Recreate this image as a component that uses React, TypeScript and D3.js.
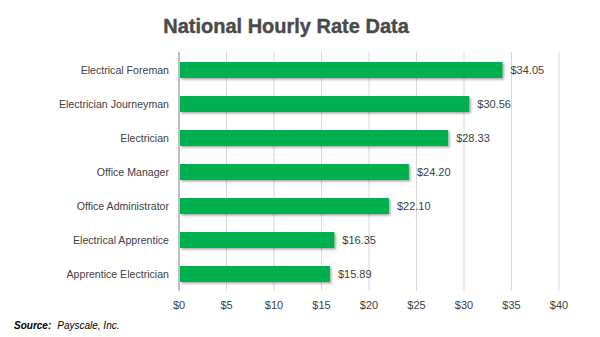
import React from "react";
import * as d3 from "d3";

const categories = [
  "Electrical Foreman",
  "Electrician Journeyman",
  "Electrician",
  "Office Manager",
  "Office Administrator",
  "Electrical Apprentice",
  "Apprentice Electrician",
];
const values = [34.05, 30.56, 28.33, 24.2, 22.1, 16.35, 15.89];
const ticks = [0, 5, 10, 15, 20, 25, 30, 35, 40];

const W = 600;
const H = 337;
const margin = { left: 179, right: 41, top: 53, bottom: 46 };

export default function App() {
  const x = d3.scaleLinear().domain([0, 40]).range([margin.left, W - margin.right]);
  const y = d3
    .scaleBand<string>()
    .domain(categories)
    .range([margin.top, H - margin.bottom])
    .paddingInner(0.53)
    .paddingOuter(0.265);
  const fmt = (v: number) => "$" + v.toFixed(2);
  const labelFont = "'Liberation Sans', Arial, sans-serif";
  return (
    <svg
      width={W}
      height={H}
      style={{ position: "absolute", left: 0, top: 0, background: "#fff" }}
    >
      <defs>
        <filter id="sh" x="-5%" y="-30%" width="110%" height="170%">
          <feDropShadow dx="1.5" dy="1.5" stdDeviation="1" floodColor="#000" floodOpacity="0.35" />
        </filter>
      </defs>
      <text
        x={286}
        y={33}
        textAnchor="middle"
        fontFamily={labelFont}
        fontWeight="bold"
        fontSize={20}
        fill="#4a4a4a"
        stroke="#4a4a4a"
        strokeWidth={0.4}
      >
        National Hourly Rate Data
      </text>
      {ticks.map((t) => (
        <g key={t}>
          {t > 0 && (
            <line
              x1={x(t)}
              x2={x(t)}
              y1={margin.top - 1}
              y2={H - margin.bottom}
              stroke="#d9d9d9"
              strokeWidth={1}
            />
          )}
          <text
            x={x(t)}
            y={309}
            textAnchor="middle"
            fontFamily={labelFont}
            fontSize={11}
            fill="#404040"
          >
            {"$" + t}
          </text>
        </g>
      ))}
      <line
        x1={x(0)}
        x2={x(0)}
        y1={margin.top - 1}
        y2={H - margin.bottom}
        stroke="#bfbfbf"
        strokeWidth={2}
      />
      {categories.map((c, i) => (
        <g key={c}>
          <rect
            x={x(0) + 1}
            y={y(c)}
            width={x(values[i]) - x(0) - 1}
            height={y.bandwidth()}
            fill="#00b050"
            filter="url(#sh)"
          />
          <text
            x={169}
            y={(y(c) as number) + y.bandwidth() / 2}
            dy="0.35em"
            textAnchor="end"
            fontFamily={labelFont}
            fontSize={10.6}
            fill="#404040"
          >
            {c}
          </text>
          <text
            x={x(values[i]) + 8}
            y={(y(c) as number) + y.bandwidth() / 2}
            dy="0.35em"
            fontFamily={labelFont}
            fontSize={11}
            fill="#404040"
          >
            {fmt(values[i])}
          </text>
        </g>
      ))}
      <text x={14} y={329} fontFamily={labelFont} fontSize={10} fill="#000">
        <tspan fontWeight="bold" fontStyle="italic">Source:</tspan>
        <tspan fontStyle="italic" dx={6}>Payscale, Inc.</tspan>
      </text>
    </svg>
  );
}
